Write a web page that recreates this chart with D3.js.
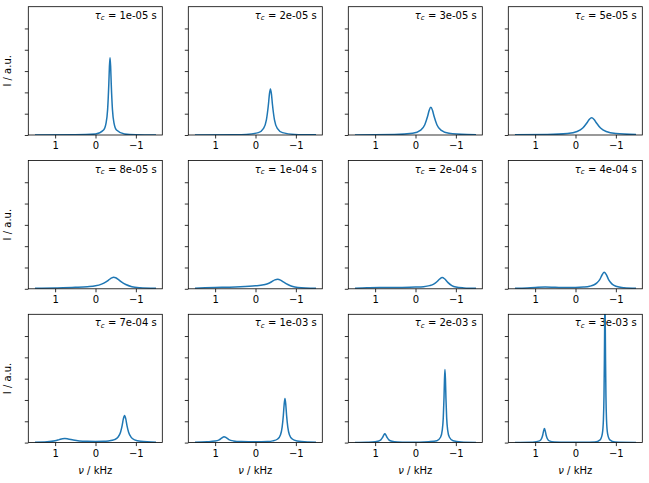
<!DOCTYPE html>
<html><head><meta charset="utf-8">
<script src="https://cdn.jsdelivr.net/npm/d3@7/dist/d3.min.js"></script>
<style>
html,body{margin:0;padding:0;background:#fff;}
text{font-family:"DejaVu Sans",sans-serif;}
</style></head>
<body><svg id="c" width="649" height="483"></svg>
<script>
// ---- data ----
const tauLabels = ["1e-05","2e-05","3e-05","5e-05","8e-05","1e-04","2e-04","4e-04","7e-04","1e-03","2e-03","3e-03"];
const xTicks = [1, 0, -1];
const yTicks = [0, 1, 2, 3, 4, 5];

const nu01 = [1.5,0.5,0.0,-0.2,-0.26,-0.30,-0.33,-0.345,-0.36,-0.375,-0.39,-0.42,-0.46,-0.52,-0.72,-1.0,-1.5];
const I01  = [0.002,0.009,0.049,0.234,0.544,1.19,2.40,3.22,3.63,3.22,2.40,1.19,0.544,0.234,0.049,0.016,0.005];

const nu02 = [1.5,0.5,0.23,-0.07,-0.2,-0.27,-0.32,-0.345,-0.37,-0.395,-0.42,-0.47,-0.54,-0.67,-0.97,-1.5];
const I02  = [0.003,0.014,0.029,0.111,0.31,0.71,1.43,1.92,2.16,1.92,1.43,0.71,0.31,0.111,0.029,0.008];

const nu03 = [1.5,0.52,0.07,-0.13,-0.23,-0.30,-0.34,-0.38,-0.42,-0.46,-0.53,-0.63,-0.83,-1.28,-1.5];
const I03  = [0.005,0.021,0.080,0.228,0.483,0.876,1.16,1.30,1.16,0.876,0.483,0.228,0.080,0.021,0.014];

const nu04 = [1.5,0.7,0.2,-0.04,-0.18,-0.28,-0.34,-0.40,-0.46,-0.52,-0.62,-0.76,-1.0,-1.5];
const I04  = [0.007,0.021,0.067,0.162,0.325,0.561,0.729,0.81,0.729,0.561,0.325,0.162,0.067,0.021];

const nu05 = [1.5,1.0,0.5,0.2,0.0,-0.15,-0.25,-0.33,-0.40,-0.45,-0.50,-0.57,-0.65,-0.75,-0.9,-1.1,-1.5];
const I05  = [0.02,0.04,0.07,0.10,0.14,0.22,0.31,0.42,0.51,0.54,0.52,0.43,0.31,0.20,0.10,0.05,0.02];

const nu06 = [1.5,1.0,0.5,0.0,-0.2,-0.3,-0.4,-0.48,-0.55,-0.62,-0.7,-0.8,-0.9,-1.05,-1.5];
const I06  = [0.03,0.06,0.09,0.14,0.19,0.24,0.33,0.42,0.45,0.41,0.31,0.20,0.12,0.06,0.02];

const nu07 = [1.5,1.2,0.8,0.4,0.0,-0.2,-0.35,-0.45,-0.53,-0.6,-0.66,-0.72,-0.8,-0.9,-1.0,-1.2,-1.5];
const I07  = [0.03,0.05,0.06,0.065,0.08,0.10,0.15,0.22,0.33,0.46,0.53,0.47,0.30,0.15,0.08,0.04,0.02];

const nu08 = [1.5,1.2,1.0,0.75,0.5,0.2,0.0,-0.2,-0.35,-0.45,-0.53,-0.6,-0.66,-0.71,-0.76,-0.82,-0.9,-1.0,-1.2,-1.5];
const I08  = [0.02,0.04,0.06,0.08,0.07,0.06,0.06,0.08,0.12,0.18,0.28,0.43,0.66,0.78,0.68,0.43,0.23,0.12,0.05,0.02];

const nu09 = [1.5,1.2,1.0,0.9,0.82,0.76,0.68,0.55,0.4,0.2,0.0,-0.2,-0.32,-0.47,-0.56,-0.62,-0.66,-0.69,-0.72,-0.75,-0.78,-0.82,-0.88,-0.97,-1.12,-1.5];
const I09  = [0.02,0.04,0.09,0.14,0.18,0.19,0.17,0.12,0.08,0.06,0.055,0.06,0.08,0.14,0.26,0.49,0.80,1.11,1.27,1.11,0.80,0.49,0.26,0.13,0.06,0.02];

const nu10 = [1.5,1.2,1.0,0.9,0.84,0.78,0.72,0.66,0.55,0.35,0.0,-0.3,-0.43,-0.55,-0.62,-0.66,-0.69,-0.71,-0.73,-0.75,-0.77,-0.80,-0.84,-0.91,-1.03,-1.3,-1.5];
const I10  = [0.02,0.04,0.07,0.13,0.21,0.28,0.22,0.14,0.08,0.05,0.04,0.05,0.08,0.17,0.37,0.73,1.28,1.79,2.07,1.79,1.28,0.73,0.37,0.17,0.08,0.03,0.02];

const nu11 = [1.5,1.2,1.0,0.94,0.86,0.82,0.79,0.76,0.73,0.70,0.66,0.58,0.45,0.2,-0.1,-0.33,-0.53,-0.62,-0.664,-0.688,-0.706,-0.718,-0.73,-0.742,-0.754,-0.772,-0.796,-0.84,-0.93,-1.13,-1.5];
const I11  = [0.01,0.02,0.04,0.06,0.13,0.23,0.34,0.41,0.34,0.23,0.13,0.06,0.03,0.02,0.02,0.04,0.09,0.25,0.60,1.16,2.09,2.96,3.43,2.96,2.09,1.16,0.60,0.25,0.09,0.03,0.01];

const nu12 = [1.5,1.1,1.02,0.89,0.84,0.81,0.79,0.77,0.75,0.73,0.70,0.65,0.52,0.2,-0.2,-0.48,-0.61,-0.665,-0.692,-0.706,-0.716,-0.723,-0.73,-0.737,-0.744,-0.754,-0.768,-0.795,-0.85,-0.98,-1.5];
const I12  = [0.01,0.02,0.03,0.08,0.19,0.37,0.55,0.66,0.55,0.37,0.19,0.08,0.03,0.015,0.015,0.03,0.13,0.42,1.10,2.20,3.94,5.64,6.6,5.64,3.94,2.20,1.10,0.42,0.13,0.03,0.01];

const freqs = [nu01,nu02,nu03,nu04,nu05,nu06,nu07,nu08,nu09,nu10,nu11,nu12];
const intens = [I01,I02,I03,I04,I05,I06,I07,I08,I09,I10,I11,I12];

// ---- layout ----
const colLeft = [28.3, 188.3, 348.3, 508.3];
const rowTop = [6.7, 160.5, 314.3];
const axW = 134, axH = 128.3;

const svg = d3.select("#c");
const x = d3.scaleLinear().domain([1.665, -1.655]).range([0, axW]);
const y = d3.scaleLinear().domain([0, 6.02]).range([axH, 0]);
const line = d3.line().x(d => x(d[0])).y(d => y(d[1])).curve(d3.curveMonotoneX);

tauLabels.forEach((tau, i) => {
  const r = Math.floor(i / 4), c = i % 4;
  const g = svg.append("g").attr("transform", `translate(${colLeft[c]},${rowTop[r]})`);

  g.append("clipPath").attr("id", "clip" + i)
    .append("rect").attr("width", axW).attr("height", axH);

  // x axis
  const xa = g.append("g").attr("transform", `translate(0,${axH})`)
    .call(d3.axisBottom(x).tickValues(xTicks).tickSize(3.5).tickPadding(3.5).tickFormat(d3.format("d")));
  xa.select(".domain").remove();
  xa.selectAll("line").attr("stroke", "#000").attr("stroke-width", 0.8);
  xa.selectAll("text").attr("font-size", 10).attr("fill", "#000").attr("font-family", "DejaVu Sans");

  // y axis (ticks only)
  const ya = g.append("g")
    .call(d3.axisLeft(y).tickValues(yTicks).tickSize(3.5).tickFormat(""));
  ya.select(".domain").remove();
  ya.selectAll("line").attr("stroke", "#000").attr("stroke-width", 0.8);

  // label text
  const t = g.append("text").attr("x", axW - 5.6).attr("y", 12)
    .attr("text-anchor", "end").attr("font-size", 10).attr("fill", "#000");
  t.append("tspan").attr("font-style", "italic").text("τ");
  t.append("tspan").attr("font-style", "italic").attr("font-size", 7).attr("dy", 1.8).text("c");
  t.append("tspan").attr("dy", -1.8).text(" = " + tau + " s");

  // spectrum
  const pts = freqs[i].map((v, k) => [v, intens[i][k]]);
  g.append("path").datum(pts).attr("d", line)
    .attr("fill", "none").attr("stroke", "#1f77b4").attr("stroke-width", 1.5)
    .attr("stroke-linejoin", "round").attr("clip-path", `url(#clip${i})`);

  // frame
  g.append("rect").attr("width", axW).attr("height", axH)
    .attr("fill", "none").attr("stroke", "#000").attr("stroke-width", 0.8);

  if (c === 0) {
    g.append("text").attr("transform", `translate(${-17},${axH / 2}) rotate(-90)`)
      .attr("text-anchor", "middle").attr("font-size", 10).attr("fill", "#000").text("I / a.u.");
  }
  if (r === 2) {
    const xl = g.append("text").attr("x", axW / 2).attr("y", axH + 31)
      .attr("text-anchor", "middle").attr("font-size", 10).attr("fill", "#000");
    xl.append("tspan").attr("font-style", "italic").text("ν");
    xl.append("tspan").text(" / kHz");
  }
});
</script></body></html>
